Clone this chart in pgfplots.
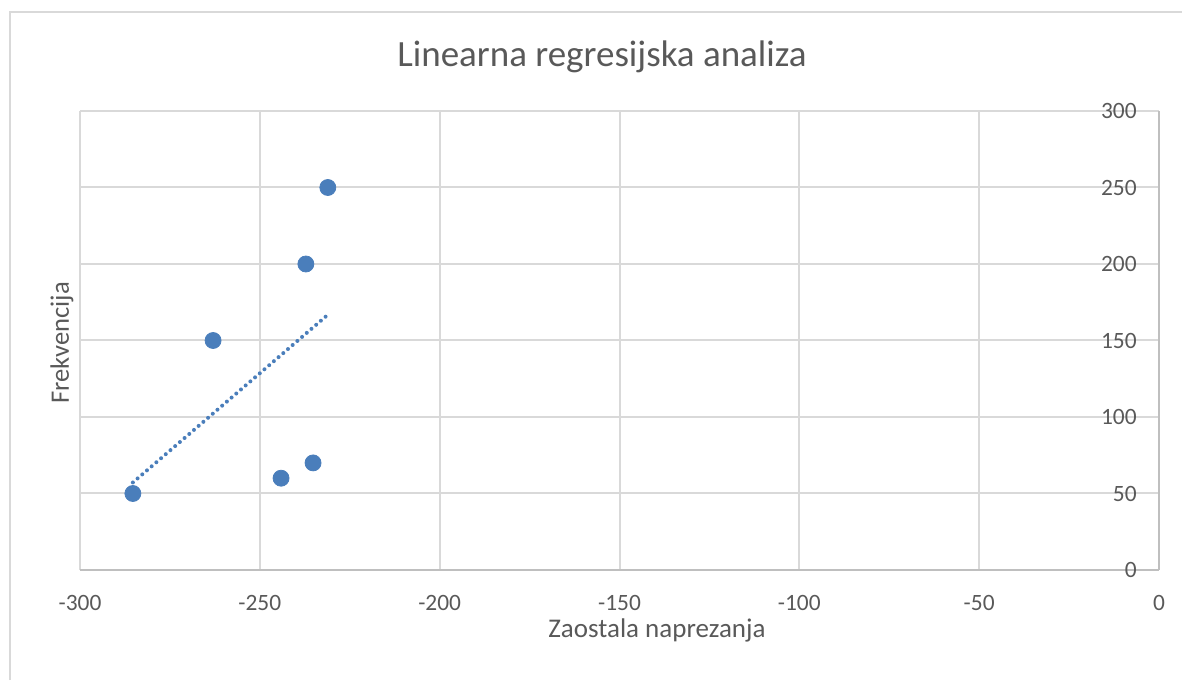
\documentclass[border=0pt]{standalone}
\usepackage{pgfplots}
\pgfplotsset{compat=1.18}
\usepackage{fontspec}
\setmainfont{Carlito}
\definecolor{txt}{HTML}{595959}
\definecolor{grd}{HTML}{D9D9D9}
\definecolor{axl}{HTML}{BFBFBF}
\definecolor{pt}{HTML}{4A7EBB}

\begin{document}
\begin{tikzpicture}[x=1pt,y=1pt]
\useasboundingbox (0,0) rectangle (591,340);
% chart area border (left and top visible)
\draw[grd, line width=0.8pt] (5,0) -- (5,334) -- (591,334);
\node[txt, font=\fontsize{18.5}{22}\selectfont] at (301,311.5) {Linearna regresijska analiza};
\node[txt, font=\fontsize{13.5}{16}\selectfont] at (328.5,25) {Zaostala naprezanja};
\node[txt, font=\fontsize{13.3}{16}\selectfont, rotate=90] at (31,168.5) {Frekvencija};

\begin{axis}[at={(40pt,55pt)}, anchor=south west, scale only axis,
  width=539.5pt, height=229.5pt,
  xmin=-300, xmax=0, ymin=0, ymax=300,
  xtick={-300,-250,...,0}, ytick={0,50,...,300},
  axis x line*=bottom, axis y line*=right,
  axis line style={axl, line width=1pt},
  grid=major, major grid style={grd, line width=1pt},
  major tick length=0pt,
  /pgf/number format/assume math mode=true,
  ticklabel style={txt, font=\fontsize{11.7}{14}\selectfont},
  xticklabel style={anchor=north, inner sep=0pt, yshift=-12.5pt},
  yticklabel style={anchor=east, inner sep=0pt, xshift=-11pt},
  clip=false]
\addplot[only marks, mark=*, mark size=4pt, mark options={fill=pt, draw=pt}]
  coordinates {(-285.3,50) (-263,150) (-244.1,60) (-237.2,200) (-235.2,70) (-231.1,250)};
\addplot[pt, line width=2pt, dash pattern=on 0pt off 3.1pt, line cap=round]
  coordinates {(-285.3,57.2) (-231.5,166)};
\end{axis}
\end{tikzpicture}
\end{document}
